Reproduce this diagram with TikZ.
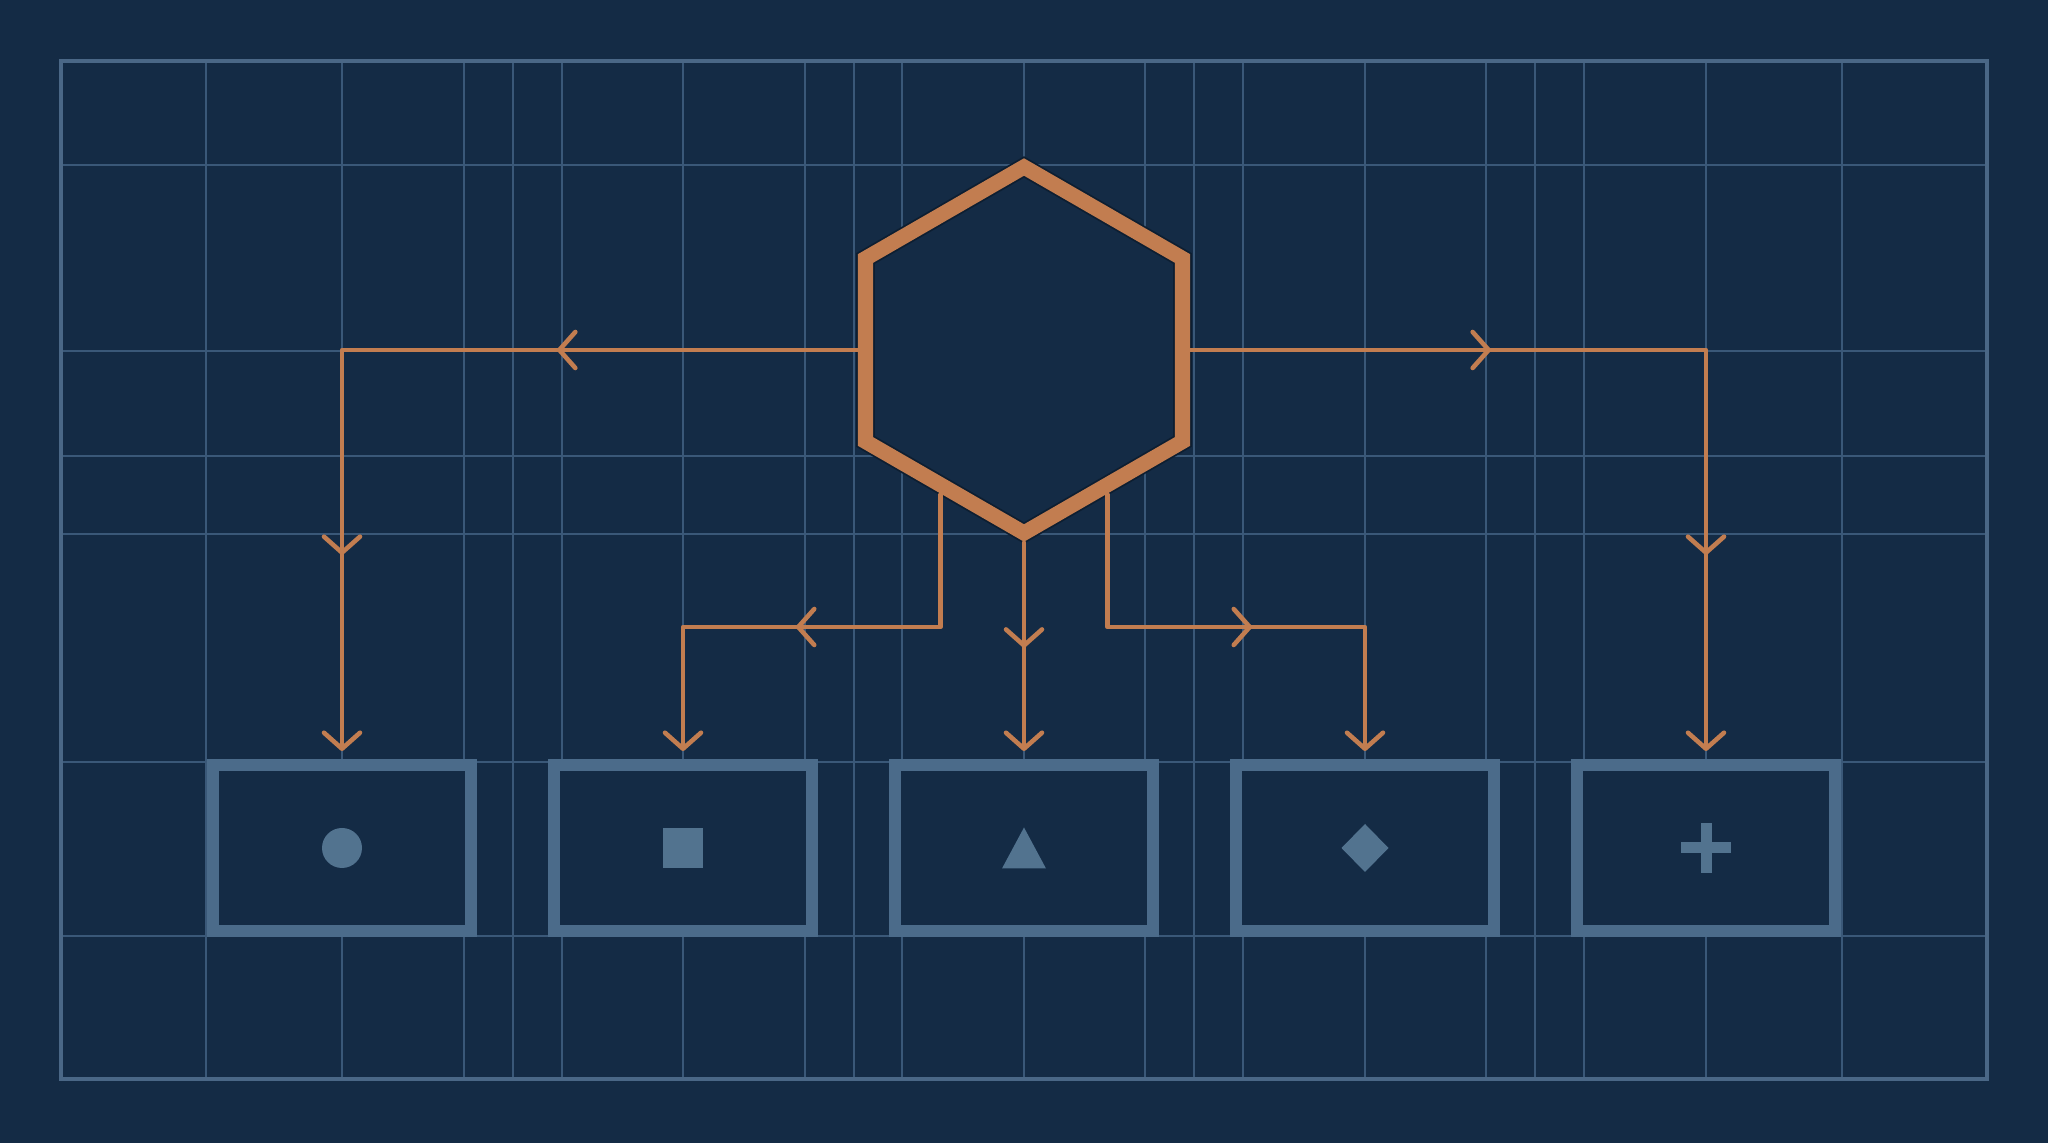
\documentclass[tikz,border=0pt]{standalone}
\usetikzlibrary{calc,shapes.geometric,arrows.meta,decorations.markings}
\definecolor{navy}{HTML}{142B45}
\definecolor{gridcol}{HTML}{3A5878}
\definecolor{framecol}{HTML}{4A6786}
\definecolor{copper}{HTML}{C27D50}
\definecolor{hexshade}{HTML}{0D1E31}
\definecolor{steel}{HTML}{4B6B8A}
\definecolor{symcol}{HTML}{52738F}
\tikzset{
  barb/.tip={Straight Barb[length=1.6mm,width=3.6mm,line width=1.3pt,round]},
  midarrow/.style={postaction={decorate,decoration={markings,
      mark=at position #1 with {\arrow{barb}}}}}
}
\begin{document}
\begin{tikzpicture}[
  gridline/.style={gridcol, line width=0.45pt},
  frameline/.style={framecol, line width=1.1pt},
  conn/.style={copper, line width=1.3pt, line cap=round, line join=round,
    -barb, shorten >=0.8mm},
  hexnode/.style={regular polygon, regular polygon sides=6,
    shape border rotate=30, minimum size=3.66cm, inner sep=0pt,
    outer sep=2.4pt, draw=hexshade, double=copper, double distance=4.3pt,
    line width=0.5pt, fill=navy},
  boxnode/.style={rectangle, draw=steel, line width=3.4pt, fill=navy,
    minimum width=2.58cm, minimum height=1.66cm, inner sep=0pt},
  symbol/.style={fill=symcol}
]

\fill[navy] (0,0) rectangle (20.48,11.43);
\useasboundingbox (0,0) rectangle (20.48,11.43);

%% grid
\foreach \x in {2.06,3.42,4.64,5.13,5.62,6.83,8.05,8.54,9.02,10.24,
                11.45,11.94,12.43,13.65,14.86,15.35,15.84,17.06,18.42}
  \draw[gridline] (\x,0.64) -- (\x,10.82);
\foreach \y in {9.78,7.92,6.87,6.09,3.81,2.07}
  \draw[gridline] (0.61,\y) -- (19.87,\y);
\draw[frameline] (0.61,0.64) rectangle (19.87,10.82);

%% boxes
\foreach \n/\x in {b1/3.42,b2/6.83,b3/10.24,b4/13.65,b5/17.06}
  \node (\n) at (\x, 2.95) [boxnode] {};

\fill[symbol] (b1) circle (0.2);
\fill[symbol] ($(b2)+(-0.2,-0.2)$) rectangle ++(0.4,0.4);
\fill[symbol] ($(b3)+(-0.22,-0.205)$) -- ++(0.44,0) -- ++(-0.22,0.41) -- cycle;
\fill[symbol] ($(b4)+(0,0.24)$) -- ++(0.235,-0.24) -- ++(-0.235,-0.24)
  -- ++(-0.235,0.24) -- cycle;
\fill[symbol] ($(b5)+(-0.25,-0.055)$) rectangle ++(0.5,0.11);
\fill[symbol] ($(b5)+(-0.055,-0.25)$) rectangle ++(0.11,0.5);

%% hexagon
\node (hex) at (10.24, 7.93) [hexnode] {};

%% connectors
\coordinate (split) at (0, 5.16);

\draw[conn, midarrow=3cm, midarrow=7.2cm] (hex.west) -| (b1.north);
\draw[conn, midarrow=3cm, midarrow=7.2cm] (hex.east) -| (b5.north);

\draw[conn, midarrow=2.77cm] (hex.240) -- (hex.240 |- split) -| (b2.north);
\draw[conn, midarrow=2.77cm] (hex.300) -- (hex.300 |- split) -| (b4.north);

\draw[conn, midarrow=1.05cm] (hex.south) -- (b3.north);

\end{tikzpicture}
\end{document}
